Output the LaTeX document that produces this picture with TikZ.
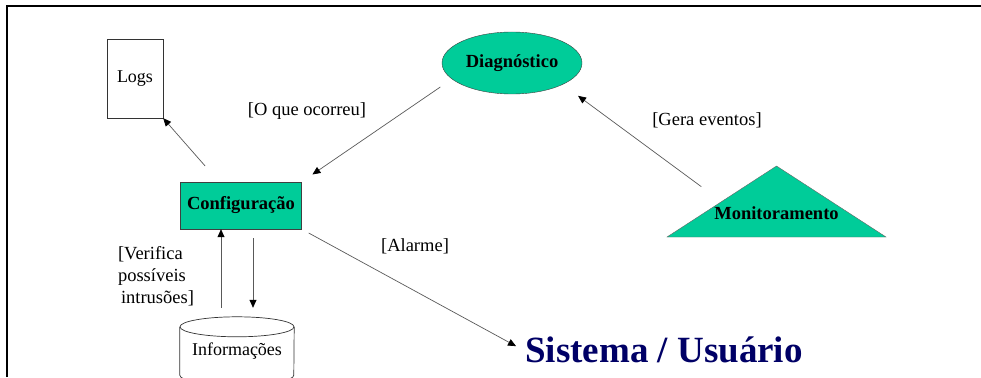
\documentclass[tikz,border=0pt]{standalone}
\usepackage{fontspec}
\setmainfont{Liberation Serif}
\usepackage[usenames,dvipsnames]{xcolor}
\usetikzlibrary{arrows.meta,shapes,positioning}
\definecolor{procgreen}{RGB}{0,204,153}
\definecolor{usernavy}{RGB}{0,0,102}

\begin{document}
\begin{tikzpicture}[x=1pt, y=-1pt]
% STYLES
\tikzset{%
    process/.style={%
    rectangle,
    draw=black!75,
    fill=procgreen,
    inner sep=2pt,
    font=\bfseries\fontsize{18.5}{20}\selectfont,
    minimum width=121pt,
    minimum height=47pt}
    }
\tikzset{%
    store/.style={%
    draw=black!80,
    fill=white,
    inner sep=2pt,
    font=\fontsize{18}{20}\selectfont}
    }
\tikzset{%
    tag/.style={%
    inner sep=1pt,
    font=\fontsize{18.5}{22}\selectfont}
    }
\tikzset{%
    flow/.style={%
    draw=black!65,
    line width=0.7pt,
    -{Triangle[length=8pt,width=7pt,color=black]}}
    }
\clip (0,0) rectangle (981,377);
% frame
\draw[line width=2.5pt] (7,377) -- (7,6) -- (981,6);
% Draw nodes
\node [store, rectangle, minimum width=56pt, minimum height=79pt] (Logs) at (135,78.5) {Logs};
\node [process, ellipse, minimum width=140pt, minimum height=62pt] (Diag) at (512,63) {Diagnóstico};
\node [process] (Config) at (241,205.5) {Configuração};
\node [store, draw=none, fill=none, minimum width=114pt, minimum height=68pt] (Info) at (237,351) {Informações};
\node [process, draw=black!60, isosceles triangle, shape border rotate=90,
       isosceles triangle apex angle=114, isosceles triangle stretches,
       minimum width=219pt, minimum height=71pt, inner sep=0pt] (Monitor) at (776.5,223) {\raisebox{4pt}[0pt][0pt]{Monitoramento}};
\node [font=\bfseries\fontsize{37}{40}\selectfont, text=usernavy, inner sep=2pt] (User) at (664,350) {Sistema / Usuário};

% cylinder round Info
\draw [black!80, line width=0.7pt] ([yshift=-10pt]Info.north) ellipse [x radius=57pt, y radius=10pt];
\draw [black!80, line width=0.7pt] ([yshift=-10pt]Info.north west) -- ([yshift=10pt]Info.south west)
    arc [start angle=180, end angle=360, x radius=57pt, y radius=10pt] -- ([yshift=-10pt]Info.north east);

% labels
\node [tag] (LblWhat) at (307,111) {[O que ocorreu]};
\node [tag] (LblEvents) at (707,120) {[Gera eventos]};
\node [tag] (LblAlarm) at (415,246) {[Alarme]};
\node [tag, align=left] (LblCheck) at (156,276) {[Verifica\\possíveis\\\hspace{3pt}intrusões]};

% Draw the links between nodes
\draw [flow, shorten <=21pt] ([xshift=-22pt]Config.north) -- (Logs.south east);
\draw [flow, shorten <=14pt, shorten >=13pt] (Diag.195) -- (Config.north east);
\draw [flow, shorten <=25pt, shorten >=19pt] (Monitor.left side) -- (Diag.337);
\draw [flow, shorten <=8pt, shorten >=8pt] (Config.south east) -- (User.west);
\draw [flow, shorten <=9pt] ([xshift=-20pt]Config.south |- Info.north) -- ([xshift=-20pt]Config.south);
\draw [flow, shorten <=9pt, shorten >=9pt] ([xshift=12pt]Config.south) -- ([xshift=12pt]Config.south |- Info.north);
\end{tikzpicture}
\end{document}
